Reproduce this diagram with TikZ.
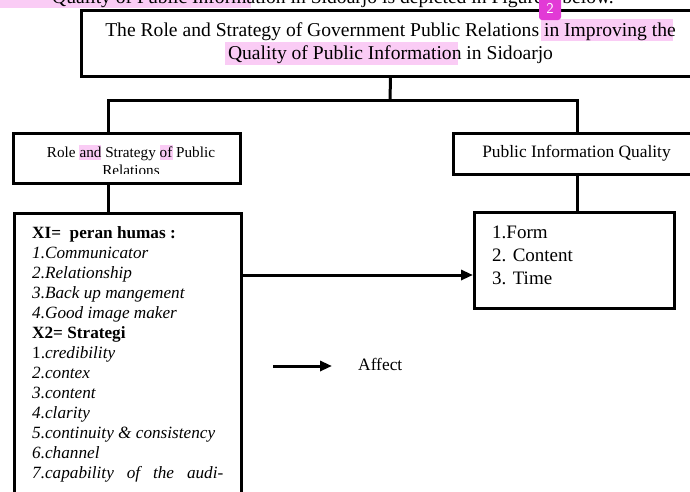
\documentclass[tikz,border=0pt]{standalone}
\usepackage{fontspec}
\setmainfont{Liberation Serif}
\usetikzlibrary{arrows.meta,positioning}
\definecolor{hilite}{RGB}{250,204,245}
\definecolor{badge}{RGB}{226,58,214}

\begin{document}
\begin{tikzpicture}[x=1pt,y=-1pt,
  box/.style={draw, line width=3pt, inner sep=0pt},
  item/.style={anchor=base west, inner sep=0pt, font=\fontsize{17.2}{20}\selectfont},
  link/.style={line width=3pt},
  >={Triangle[length=12pt,width=10pt]}]
  \useasboundingbox (0,0) rectangle (690,491);
  \clip (0,0) rectangle (690,491);

  % Highlights
  \fill[hilite] (0,0) rectangle (251,8);
  \fill[hilite] (541,19) rectangle (673,41);
  \fill[hilite] (225,42) rectangle (458,65);
  \fill[hilite] (79,145) rectangle (101,160);
  \fill[hilite] (160,145) rectangle (173,160);

  % Cut-off sentence above the figure
  \node[anchor=base east, inner sep=0pt, font=\fontsize{19.6}{23}\selectfont] (sentence) at (614,3)
    {Quality of Public Information in Sidoarjo is depicted in Figure 2 below.};

  % Title box
  \node[box, minimum width=619pt, minimum height=66pt, align=center,
    font=\fontsize{19.6}{23}\selectfont] (title) at (390.5,43)
    {The Role and Strategy of Government Public Relations in Improving the\\
     Quality of Public Information in Sidoarjo};

  % Badge
  \node[fill=badge, text=white, rounded corners=3pt, minimum width=22pt, minimum height=24pt,
    inner sep=0pt, font=\sffamily\fontsize{15}{15}\selectfont] (badge) at (550,8) {2};

  % Second level
  \node[box, minimum width=227pt, minimum height=50pt] (role) at (126.5,158) {};
  \begin{scope}
    \clip (13,133) rectangle (240,173);
    \node[align=center, font=\fontsize{15.2}{18}\selectfont] (roletext) at (131,161)
      {Role and Strategy of Public\\Relations};
  \end{scope}
  \node[box, minimum width=247pt, minimum height=41pt, font=\fontsize{17.4}{20}\selectfont]
    (quality) at (576.5,153.5) {Public Information Quality};

  % Third level
  \node[box, minimum width=227pt, minimum height=320pt, anchor=north west] (roles) at (13,212) {};
  \node[box, minimum width=200pt, minimum height=96pt, anchor=north west] (info) at (473,211) {};

  % Items
  \foreach \txt [count=\i from 0] in {\textbf{XI=\ \ peran humas :}, \textit{1.Communicator},
      \textit{2.Relationship}, \textit{3.Back up mangement}, \textit{4.Good image maker},
      \textbf{X2= Strategi}, 1.\textit{credibility}, \textit{2.contex}, \textit{3.content},
      \textit{4.clarity}, \textit{5.continuity \& consistency}, \textit{6.channel},
      \textit{7.capability\ \ \ of\ \ \ the\ \ \ audi-}}
    \node[item] (item\i) at (32,238+20*\i) {\txt};
  \foreach \txt [count=\i from 0] in {1.Form, 2. Content, 3. Time}
    \node[item, font=\fontsize{19}{22}\selectfont] (form\i) at (492,238+23*\i) {\txt};

  % Connectors
  \coordinate (split) at (390,100);
  \coordinate (lx) at (108,100);
  \coordinate (rx) at (577,100);
  \draw[link] (title.south) -- (split);
  \draw[link] (lx |- role.north) -- (lx) -- (rx) -- (rx |- quality.north);
  \draw[link] (lx |- role.south) -- (lx |- roles.north);
  \draw[link] (rx |- quality.south) -- (rx |- info.north);
  \coordinate (tail) at (240,275);
  \draw[link, ->] (tail) -- (tail -| info.west);

  % Legend
  \coordinate (key) at (273,366);
  \draw[link, ->] (key) -- ++(59,0) coordinate (keyend);
  \node[anchor=west, inner sep=0pt, font=\fontsize{17.4}{20}\selectfont] (affect) at (358,364) {Affect};
\end{tikzpicture}
\end{document}
